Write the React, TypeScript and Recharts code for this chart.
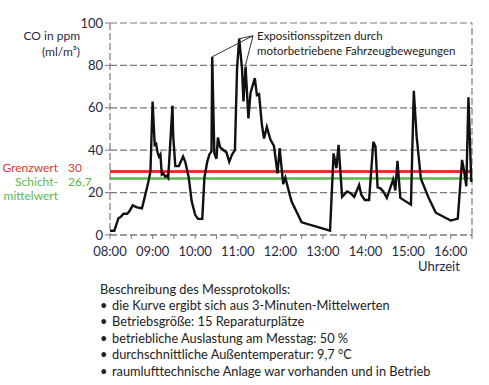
import React from 'react'
import {
  LineChart, Line, XAxis, YAxis, CartesianGrid, ReferenceLine,
} from 'recharts'

// minutes after 08:00 and CO reading (ppm) at each vertex of the curve
const minutes = [
  0, 6, 12, 15, 19, 24, 27, 32, 38, 45, 49, 54, 57, 60, 63, 65, 67, 69, 71, 73,
  75, 78, 80, 82, 88, 89, 92, 97, 103, 106, 111, 115, 120, 124, 130, 133, 137, 140,
  143, 144, 147, 150, 152, 155, 160, 164, 168, 172, 176, 179, 182, 186, 188, 191,
  195, 198, 204, 207, 210, 214, 217, 221, 226, 231, 236, 239, 244, 247, 254, 256,
  270, 310, 315, 319, 322, 327, 334, 339, 344, 351, 354, 359, 365, 371, 374, 377,
  381, 385, 390, 399, 402, 405, 409, 424, 428, 432, 438, 449, 459, 480, 490, 496,
  499, 502, 505, 509,
]
const co = [
  2, 2, 8, 8.5, 10, 10, 11, 14, 13, 12.6, 18, 25, 30, 63, 42.5, 43, 39, 37, 38, 28.5,
  29, 27.5, 28, 27, 61, 47, 32.5, 32.5, 37, 34.5, 27, 16, 9.5, 7.6, 7.6, 27, 34.5, 38,
  39.5, 84, 38.5, 36, 46, 41.5, 40, 39, 34.5, 38, 40, 78.5, 92.6, 78.5, 63, 79.5,
  55, 67, 74, 66, 66.5, 52, 45.5, 51, 45, 42, 29, 41, 24, 27, 18, 15.7,
  6, 2, 38.5, 31.5, 42.5, 18, 20.5, 19.7, 18, 23.6, 19, 16.5, 16.5, 44, 41.7, 22.5,
  22, 20.5, 17.5, 26.2, 21, 35, 17.5, 14.3, 68, 46.5, 26.5, 17.5, 10.5, 6.8, 7.7, 35.4,
  30, 23, 65, 25,
]
const yTicks = [0, 20, 40, 60, 80, 100]
const xTicks = [0, 30, 60, 90, 120, 150, 180, 210, 240, 270, 300, 330, 360, 390, 420, 450, 480, 510]
const hourLabels = ['08:00', '09:00', '10:00', '11:00', '12:00', '13:00', '14:00', '15:00', '16:00']

const grenzwert = 30
const schichtmittelwert = 26.7

// leader lines for the annotation: peak -> text anchor
const annotAnchor = { x: 201.5, y: 94 }
const annotPeaks = [
  { x: 143.6, y: 84 },
  { x: 182.1, y: 92.6 },
  { x: 190.8, y: 80 },
]

const notes = [
  'die Kurve ergibt sich aus 3-Minuten-Mittelwerten',
  'Betriebsgröße: 15 Reparaturplätze',
  'betriebliche Auslastung am Messtag: 50 %',
  'durchschnittliche Außentemperatur: 9,7 °C',
  'raumlufttechnische Anlage war vorhanden und in Betrieb',
]

const data = minutes.map((m, i) => ({ t: m, v: co[i] }))

const NAVY = '#1f2a44'
const RED = '#e5352f'
const GREEN = '#5bb84a'
const GRID = '#7a7a7a'
const FONT = 'Lato, "Noto Sans", sans-serif'

const HourTick = (props: any) => {
  const { x, y, payload } = props
  if (payload.value % 60 !== 0) return null
  const label = hourLabels[payload.value / 60]
  return (
    <text x={x} y={y + 15} textAnchor="middle" fill={NAVY} fontSize={13} fontFamily={FONT}>
      {label}
    </text>
  )
}

const abs = (left: number, top: number, extra: React.CSSProperties = {}): React.CSSProperties => ({
  position: 'absolute', left, top, fontFamily: FONT, whiteSpace: 'nowrap', lineHeight: 1, ...extra,
})

export default function App() {
  return (
    <div style={{ position: 'absolute', left: 0, top: 0, width: 489, height: 385, background: '#fff', overflow: 'hidden' }}>
      <LineChart width={489} height={270} data={data} margin={{ top: 23, right: 17, left: 60, bottom: 5 }}>
        <CartesianGrid vertical={false} stroke={GRID} strokeDasharray="7 3" strokeWidth={1.2} />
        <XAxis
          dataKey="t"
          type="number"
          domain={[0, 510]}
          ticks={xTicks}
          interval={0}
          tick={<HourTick />}
          tickSize={4}
          height={30}
          axisLine={{ stroke: GRID, strokeDasharray: '7 3', strokeWidth: 1.2 }}
          tickLine={{ stroke: GRID }}
        />
        <YAxis
          type="number"
          domain={[0, 100]}
          ticks={yTicks}
          width={50}
          tickSize={5}
          tick={{ fill: NAVY, fontSize: 13, fontFamily: FONT }}
          axisLine={{ stroke: GRID, strokeDasharray: '7 3', strokeWidth: 1.2 }}
          tickLine={{ stroke: GRID }}
        />
        <ReferenceLine x={510} stroke={GRID} strokeDasharray="7 3" strokeWidth={1.2} />
        <ReferenceLine y={grenzwert} stroke={RED} strokeWidth={3} />
        <ReferenceLine y={schichtmittelwert} stroke={GREEN} strokeWidth={2.5} />
        {annotPeaks.map((p, i) => (
          <ReferenceLine key={i} segment={[p, annotAnchor]} stroke="#333" strokeWidth={1} />
        ))}
        <Line
          type="linear"
          dataKey="v"
          stroke="#111"
          strokeWidth={2.4}
          dot={false}
          isAnimationActive={false}
        />
      </LineChart>

      {/* axis title */}
      <div style={abs(20, 30, { width: 60, textAlign: 'right', color: NAVY, fontSize: 12 })}>CO in ppm</div>
      <div style={abs(20, 46, { width: 60, textAlign: 'right', color: NAVY, fontSize: 12 })}>(ml/m³)</div>

      {/* annotation */}
      <div style={abs(257, 30, { color: '#222', fontSize: 11.5 })}>Expositionsspitzen durch</div>
      <div style={abs(257, 45, { color: '#222', fontSize: 11.5 })}>motorbetriebene Fahrzeugbewegungen</div>

      {/* limit labels */}
      <div style={abs(0, 162, { width: 58, textAlign: 'right', color: RED, fontSize: 12 })}>Grenzwert</div>
      <div style={abs(68, 162, { color: RED, fontSize: 12 })}>{grenzwert}</div>
      <div style={abs(0, 176, { width: 58, textAlign: 'right', color: GREEN, fontSize: 12 })}>Schicht-</div>
      <div style={abs(68, 176, { color: GREEN, fontSize: 12 })}>{String(schichtmittelwert).replace('.', ',')}</div>
      <div style={abs(0, 190, { width: 58, textAlign: 'right', color: GREEN, fontSize: 12 })}>mittelwert</div>

      <div style={abs(418, 260, { color: NAVY, fontSize: 13 })}>Uhrzeit</div>

      {/* description */}
      <div style={abs(100, 283, { color: '#222', fontSize: 12.8 })}>Beschreibung des Messprotokolls:</div>
      {notes.map((n, i) => (
        <div key={i} style={abs(100, 299 + i * 16.4, { color: '#222', fontSize: 12.8 })}>
          <span style={{ display: 'inline-block', width: 12 }}>•</span>{n}
        </div>
      ))}
    </div>
  )
}
